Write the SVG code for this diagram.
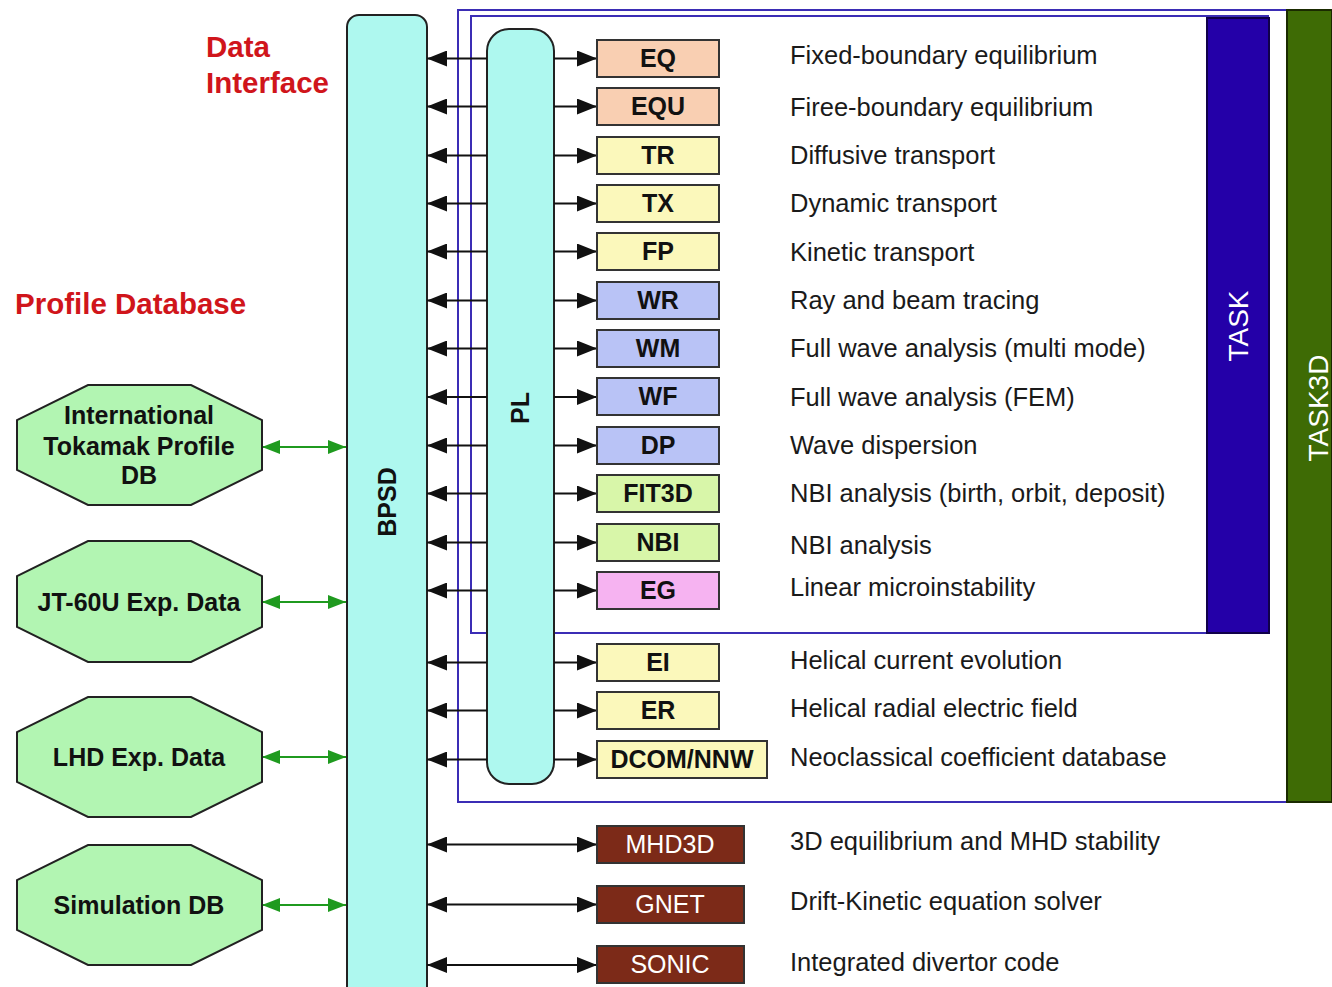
<svg xmlns="http://www.w3.org/2000/svg" width="1332" height="987" viewBox="0 0 1332 987">
<style>
text{font-family:"Liberation Sans",Arial,sans-serif}
.lbl{font-size:25px;font-weight:bold;fill:#111;text-anchor:middle}
.wl{font-size:25px;fill:#fff;text-anchor:middle}
.desc{font-size:25.5px;fill:#1a1a1a}
.red{font-size:29.5px;font-weight:bold;fill:#d0151b}
.oct{fill:#b2f5b2;stroke:#222;stroke-width:2}
.oct-t{font-size:25px;font-weight:bold;fill:#111;text-anchor:middle}
.box{stroke:#333;stroke-width:2}
.peach{fill:#f9cfb2}.yel{fill:#fbf8bb}.blu{fill:#b9c3f6}.grn{fill:#d8f6a9}.pnk{fill:#f6b3f1}.brn{fill:#7c2a18}
.bar{fill:#aef8ef;stroke:#222;stroke-width:2}
.frame{fill:none;stroke:#3b2db5;stroke-width:2}
.ar{stroke:#111;stroke-width:2;fill:none}
.gar{stroke:#1f9a1f;stroke-width:2.2;fill:none}
.vt{font-size:28px;fill:#fff;text-anchor:middle}
</style>
<defs>
<marker id="ah" viewBox="0 0 20 16" refX="20" refY="8" markerWidth="20" markerHeight="16" markerUnits="userSpaceOnUse" orient="auto-start-reverse"><path d="M0,0 L20,8 L0,16 z" fill="#111"/></marker>
<marker id="gh" viewBox="0 0 18 14" refX="18" refY="7" markerWidth="18" markerHeight="14" markerUnits="userSpaceOnUse" orient="auto-start-reverse"><path d="M0,0 L18,7 L0,14 z" fill="#1f9a1f"/></marker>
</defs>

<g id="labels">
<text class="red" x="206" y="57">Data</text>
<text class="red" x="206" y="93">Interface</text>
<text class="red" x="15" y="314">Profile Database</text>
</g>

<g id="task3d-frame">
<rect class="frame" x="458" y="10" width="829" height="792"/>
<rect x="1287" y="10" width="45" height="792" fill="#3e6b05" stroke="#1a2a00" stroke-width="2"/>
<text class="vt" x="1318" y="418" transform="rotate(-90 1318 408)">TASK3D</text>
</g>
<g id="task-frame">
<rect class="frame" x="471" y="16" width="797" height="617"/>
<rect x="1207" y="18" width="62" height="615" fill="#2400a8" stroke="#10004a" stroke-width="2"/>
<text class="vt" x="1238" y="336" transform="rotate(-90 1238 326)">TASK</text>
</g>

<g id="BPSD">
<rect class="bar" x="347" y="15" width="80" height="990" rx="12"/>
<text class="lbl" x="387" y="511" transform="rotate(-90 387 502)">BPSD</text>
</g>
<g id="PL">
<rect class="bar" x="487" y="29" width="67" height="755" rx="22"/>
<text class="lbl" x="520" y="417" transform="rotate(-90 520 408)">PL</text>
</g>

<g id="connectors">
<g class="ar">
<path d="M487,58.5H427" marker-end="url(#ah)"/><path d="M554,58.5H597" marker-end="url(#ah)"/>
<path d="M487,106.5H427" marker-end="url(#ah)"/><path d="M554,106.5H597" marker-end="url(#ah)"/>
<path d="M487,155.5H427" marker-end="url(#ah)"/><path d="M554,155.5H597" marker-end="url(#ah)"/>
<path d="M487,203.5H427" marker-end="url(#ah)"/><path d="M554,203.5H597" marker-end="url(#ah)"/>
<path d="M487,251.5H427" marker-end="url(#ah)"/><path d="M554,251.5H597" marker-end="url(#ah)"/>
<path d="M487,300.5H427" marker-end="url(#ah)"/><path d="M554,300.5H597" marker-end="url(#ah)"/>
<path d="M487,348.5H427" marker-end="url(#ah)"/><path d="M554,348.5H597" marker-end="url(#ah)"/>
<path d="M487,397H427" marker-end="url(#ah)"/><path d="M554,397H597" marker-end="url(#ah)"/>
<path d="M487,445.5H427" marker-end="url(#ah)"/><path d="M554,445.5H597" marker-end="url(#ah)"/>
<path d="M487,493.5H427" marker-end="url(#ah)"/><path d="M554,493.5H597" marker-end="url(#ah)"/>
<path d="M487,542.5H427" marker-end="url(#ah)"/><path d="M554,542.5H597" marker-end="url(#ah)"/>
<path d="M487,590.5H427" marker-end="url(#ah)"/><path d="M554,590.5H597" marker-end="url(#ah)"/>
<path d="M487,662.5H427" marker-end="url(#ah)"/><path d="M554,662.5H597" marker-end="url(#ah)"/>
<path d="M487,710.5H427" marker-end="url(#ah)"/><path d="M554,710.5H597" marker-end="url(#ah)"/>
<path d="M487,759.5H427" marker-end="url(#ah)"/><path d="M554,759.5H597" marker-end="url(#ah)"/>
<path d="M427,844.5H597" marker-start="url(#ah)" marker-end="url(#ah)"/>
<path d="M427,904.5H597" marker-start="url(#ah)" marker-end="url(#ah)"/>
<path d="M427,965H597" marker-start="url(#ah)" marker-end="url(#ah)"/>
</g>
<g class="gar">
<path d="M262,447H346" marker-start="url(#gh)" marker-end="url(#gh)"/>
<path d="M262,602H346" marker-start="url(#gh)" marker-end="url(#gh)"/>
<path d="M262,757H346" marker-start="url(#gh)" marker-end="url(#gh)"/>
<path d="M262,905H346" marker-start="url(#gh)" marker-end="url(#gh)"/>
</g>
</g>

<g id="db-itp">
<polygon class="oct" points="88,385 191,385 262,420 262,470 191,505 88,505 17,470 17,420"/>
<text class="oct-t" x="139" y="424">International</text>
<text class="oct-t" x="139" y="455">Tokamak Profile</text>
<text class="oct-t" x="139" y="484">DB</text>
</g>
<g id="db-jt60u">
<polygon class="oct" points="88,541 191,541 262,576 262,627 191,662 88,662 17,627 17,576"/>
<text class="oct-t" x="139" y="611">JT-60U Exp. Data</text>
</g>
<g id="db-lhd">
<polygon class="oct" points="88,697 191,697 262,732 262,782 191,817 88,817 17,782 17,732"/>
<text class="oct-t" x="139" y="766">LHD Exp. Data</text>
</g>
<g id="db-sim">
<polygon class="oct" points="88,845 191,845 262,880 262,930 191,965 88,965 17,930 17,880"/>
<text class="oct-t" x="139" y="914">Simulation DB</text>
</g>

<g id="EQ"><rect class="box peach" x="597" y="40" width="122" height="37"/><text class="lbl" x="658" y="67">EQ</text><text class="desc" x="790" y="64">Fixed-boundary equilibrium</text></g>
<g id="EQU"><rect class="box peach" x="597" y="88" width="122" height="37"/><text class="lbl" x="658" y="115">EQU</text><text class="desc" x="790" y="116">Firee-boundary equilibrium</text></g>
<g id="TR"><rect class="box yel" x="597" y="137" width="122" height="37"/><text class="lbl" x="658" y="164">TR</text><text class="desc" x="790" y="164">Diffusive transport</text></g>
<g id="TX"><rect class="box yel" x="597" y="185" width="122" height="37"/><text class="lbl" x="658" y="212">TX</text><text class="desc" x="790" y="212">Dynamic transport</text></g>
<g id="FP"><rect class="box yel" x="597" y="233" width="122" height="37"/><text class="lbl" x="658" y="260">FP</text><text class="desc" x="790" y="261">Kinetic transport</text></g>
<g id="WR"><rect class="box blu" x="597" y="282" width="122" height="37"/><text class="lbl" x="658" y="309">WR</text><text class="desc" x="790" y="309">Ray and beam tracing</text></g>
<g id="WM"><rect class="box blu" x="597" y="330" width="122" height="37"/><text class="lbl" x="658" y="357">WM</text><text class="desc" x="790" y="357">Full wave analysis (multi mode)</text></g>
<g id="WF"><rect class="box blu" x="597" y="378" width="122" height="37"/><text class="lbl" x="658" y="405">WF</text><text class="desc" x="790" y="406">Full wave analysis (FEM)</text></g>
<g id="DP"><rect class="box blu" x="597" y="427" width="122" height="37"/><text class="lbl" x="658" y="454">DP</text><text class="desc" x="790" y="454">Wave dispersion</text></g>
<g id="FIT3D"><rect class="box grn" x="597" y="475" width="122" height="37"/><text class="lbl" x="658" y="502">FIT3D</text><text class="desc" x="790" y="502">NBI analysis (birth, orbit, deposit)</text></g>
<g id="NBI"><rect class="box grn" x="597" y="524" width="122" height="37"/><text class="lbl" x="658" y="551">NBI</text><text class="desc" x="790" y="554">NBI analysis</text></g>
<g id="EG"><rect class="box pnk" x="597" y="572" width="122" height="37"/><text class="lbl" x="658" y="599">EG</text><text class="desc" x="790" y="596">Linear microinstability</text></g>
<g id="EI"><rect class="box yel" x="597" y="644" width="122" height="37"/><text class="lbl" x="658" y="671">EI</text><text class="desc" x="790" y="669">Helical current evolution</text></g>
<g id="ER"><rect class="box yel" x="597" y="692" width="122" height="37"/><text class="lbl" x="658" y="719">ER</text><text class="desc" x="790" y="717">Helical radial electric field</text></g>
<g id="DCOM"><rect class="box yel" x="597" y="741" width="170" height="37"/><text class="lbl" x="682" y="768">DCOM/NNW</text><text class="desc" x="790" y="766">Neoclassical coefficient database</text></g>
<g id="MHD3D"><rect class="box brn" x="597" y="826" width="147" height="37"/><text class="wl" x="670" y="853">MHD3D</text><text class="desc" x="790" y="850">3D equilibrium and MHD stability</text></g>
<g id="GNET"><rect class="box brn" x="597" y="886" width="147" height="37"/><text class="wl" x="670" y="913">GNET</text><text class="desc" x="790" y="910">Drift-Kinetic equation solver</text></g>
<g id="SONIC"><rect class="box brn" x="597" y="946" width="147" height="37"/><text class="wl" x="670" y="973">SONIC</text><text class="desc" x="790" y="971">Integrated divertor code</text></g>
</svg>
